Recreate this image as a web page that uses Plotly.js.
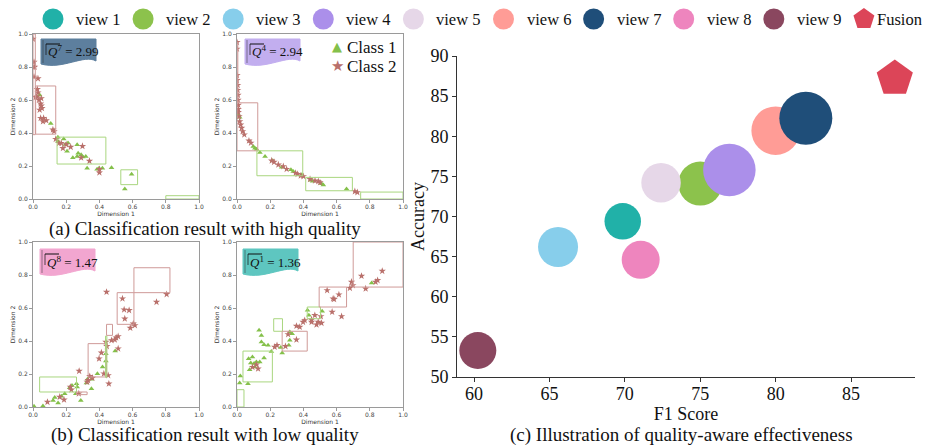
<!DOCTYPE html>
<html><head><meta charset="utf-8">
<script src="https://cdn.plot.ly/plotly-3.0.1.min.js"></script>
<style>html,body{margin:0;padding:0;background:#fff}#chart{width:926px;height:447px}</style>
</head><body><div id="chart"></div>
<script>
// ===================== DATA =====================
// (c) bubble chart
const viewNames  = ['view 1','view 2','view 3','view 4','view 5','view 6','view 7','view 8','view 9'];
const viewColors = ['#21b1a8','#8cc24c','#87ceeb','#ab8fea','#e6d7e8','#ff9c96','#1f4e79','#ee85be','#8a475f'];
const viewF1     = [69.86, 75.0, 65.57, 76.93, 72.4, 80.0, 82.0, 71.05, 60.25];
const viewAcc    = [69.4, 74.1, 66.2, 75.8, 74.2, 80.7, 82.25, 64.6, 53.3];
const viewSize   = [36.5, 44, 40, 52.5, 39.5, 48.5, 53, 38, 37];
const fusionName = 'Fusion';
const fusionColor = '#dc4558';
const fusionF1   = [87.9];
const fusionAcc  = [87.2];
const f1Ticks    = [60, 65, 70, 75, 80, 85];
const accTicks   = [50, 55, 60, 65, 70, 75, 80, 85, 90];

// small panels (a)/(b)
const dimTicks = [0, 0.2, 0.4, 0.6, 0.8, 1.0];
const className = ['Class 1', 'Class 2'];
const panelView  = [7, 4, 8, 1];           // Q^v shown in badge
const panelQ     = ['2.99', '2.94', '1.47', '1.36'];

// Panel a-left (view 7)
const a1C1x = [0.04,0.107,0.15,0.15,0.185,0.195,0.205,0.211,0.24,0.266,0.272,0.266,0.29,0.30,0.318,0.326,0.386,0.398,0.418,0.473,0.553,0.594];
const a1C1y = [0.63,0.458,0.375,0.35,0.363,0.33,0.29,0.339,0.25,0.258,0.278,0.329,0.268,0.254,0.258,0.187,0.18,0.187,0.187,0.19,0.06,0.15];
const a1C2x = [0.0,0.006,0.01,0.0,0.006,0.03,0.026,0.03,0.024,0.016,0.036,0.05,0.046,0.05,0.04,0.054,0.046,0.064,0.06,0.08,0.12,0.127,0.137,0.157,0.17,0.18,0.2,0.227,0.29,0.298,0.34,0.40,0.40];
const a1C2y = [0.97,0.83,0.80,0.80,0.74,0.73,0.665,0.645,0.62,0.617,0.60,0.61,0.577,0.565,0.54,0.55,0.49,0.49,0.47,0.476,0.42,0.41,0.363,0.339,0.339,0.308,0.33,0.315,0.25,0.32,0.23,0.18,0.16];
const a1Rects = [[0.0,0.014,0.39,1.0,2],[0.016,0.137,0.393,0.685,2],[0.145,0.439,0.212,0.375,1],[0.529,0.63,0.087,0.177,1],[0.80,1.0,0.0,0.02,1]];

// Panel a-right (view 4)
const a2C1x = [0.008,0.016,0.098,0.108,0.118,0.138,0.169,0.215,0.269,0.325,0.339,0.39,0.444,0.456,0.51,0.52,0.66];
const a2C1y = [0.51,0.496,0.318,0.308,0.302,0.282,0.258,0.232,0.192,0.177,0.167,0.147,0.113,0.107,0.093,0.085,0.06];
const a2C2x = [0,0,0,0,0.004,0.004,0.006,0.006,0.008,0.008,0.008,0.012,0.016,0.022,0.028,0.034,0.044,0.072,0.084,0.209,0.223,0.249,0.279,0.299,0.353,0.365,0.384,0.40,0.44,0.47,0.49,0.50,0.71,0.725];
const a2C2y = [0.95,0.91,0.75,0.72,0.69,0.66,0.63,0.60,0.57,0.545,0.526,0.50,0.47,0.45,0.43,0.41,0.39,0.353,0.34,0.232,0.224,0.208,0.198,0.181,0.157,0.151,0.141,0.137,0.12,0.111,0.107,0.10,0.046,0.04];
const a2Rects = [[0.0,0.005,0.583,0.95,2],[0.0,0.125,0.292,0.583,2],[0.12,0.396,0.141,0.292,1],[0.414,0.695,0.05,0.131,1],[0.745,1.0,0.0,0.042,1]];

// Panel b-left (view 8)
const b1C1x = [0.495,0.439,0.439,0.419,0.388,0.352,0.328,0.322,0.262,0.266,0.235,0.221,0.258,0.288,0.191,0.171,0.131,0.121,0.151,0.06,0.006,0.352];
const b1C1y = [0.339,0.323,0.279,0.242,0.202,0.168,0.168,0.145,0.141,0.121,0.131,0.117,0.081,0.04,0.081,0.065,0.057,0.04,0.024,0.006,0.004,0.111];
const b1C2x = [0.443,0.539,0.549,0.579,0.553,0.586,0.604,0.614,0.744,0.805,0.501,0.513,0.493,0.473,0.439,0.445,0.513,0.412,0.398,0.427,0.453,0.457,0.278,0.342,0.332,0.326,0.358,0.225,0.231,0.161,0.187,0.087,0.276];
const b1C2y = [0.697,0.657,0.59,0.586,0.535,0.479,0.505,0.495,0.636,0.683,0.42,0.428,0.408,0.404,0.394,0.368,0.354,0.329,0.293,0.202,0.192,0.141,0.218,0.186,0.162,0.152,0.176,0.121,0.105,0.061,0.044,0.03,0.081];
const b1Rects = [[0.04,0.262,0.091,0.182,1],[0.262,0.326,0.075,0.091,2],[0.332,0.443,0.182,0.384,2],[0.437,0.445,0.18,0.43,1],[0.443,0.479,0.434,0.501,2],[0.507,0.608,0.501,0.693,2],[0.608,0.825,0.693,0.844,2]];

// Panel b-right (view 1)
const b2C1x = [0.02,0.016,0.066,0.070,0.093,0.083,0.103,0.107,0.076,0.117,0.137,0.163,0.133,0.147,0.147,0.163,0.187,0.207,0.264,0.272,0.312,0.318,0.318,0.332,0.425,0.433,0.513,0.811];
const b2C1y = [0.188,0.145,0.141,0.293,0.303,0.267,0.263,0.242,0.226,0.273,0.273,0.297,0.465,0.434,0.394,0.378,0.374,0.337,0.36,0.327,0.374,0.404,0.455,0.444,0.586,0.556,0.58,0.752];
const b2C2x = [0.093,0.117,0.127,0.227,0.241,0.292,0.308,0.358,0.358,0.378,0.398,0.408,0.449,0.449,0.469,0.479,0.489,0.505,0.509,0.573,0.579,0.585,0.543,0.614,0.63,0.68,0.69,0.698,0.75,0.775,0.835,0.847,0.875];
const b2C2y = [0.242,0.257,0.232,0.364,0.374,0.368,0.44,0.408,0.491,0.485,0.515,0.525,0.529,0.515,0.556,0.499,0.515,0.549,0.509,0.576,0.657,0.653,0.707,0.681,0.549,0.721,0.758,0.737,0.794,0.717,0.758,0.768,0.824];
const b2Rects = [[0.0,0.042,0.0,0.105,1],[0.036,0.213,0.152,0.339,1],[0.221,0.274,0.459,0.535,1],[0.272,0.423,0.339,0.459,2],[0.423,0.503,0.535,0.606,1],[0.495,0.66,0.606,0.727,2],[0.70,1.0,0.727,1.0,2]];

const captions = ['(a) Classification result with high quality','(b) Classification result with low quality','(c) Illustration of quality-aware effectiveness'];

// ===================== STYLE / LAYOUT =====================
const W = 926, H = 447;
const px = x => x / W;
const py = y => 1 - y / H;
const SERIF = "'Liberation Serif', serif";
const SANS = "'DejaVu Sans', sans-serif";
const c1Color = '#84c04a', c2Color = '#b9706b';
const c1Rect = '#a9d67f', c2Rect = '#cf9a98';

const panels = [
  {xa:'x2', ya:'y2', box:[33,199,34,199],  C1x:a1C1x, C1y:a1C1y, C2x:a1C2x, C2y:a1C2y, rects:a1Rects, badge:[41,39]},
  {xa:'x3', ya:'y3', box:[237,403,34,199], C1x:a2C1x, C1y:a2C1y, C2x:a2C2x, C2y:a2C2y, rects:a2Rects, badge:[245,39]},
  {xa:'x4', ya:'y4', box:[33,199,242,407], C1x:b1C1x, C1y:b1C1y, C2x:b1C2x, C2y:b1C2y, rects:b1Rects, badge:[40,249]},
  {xa:'x5', ya:'y5', box:[237,403,242,407], C1x:b2C1x, C1y:b2C1y, C2x:b2C2x, C2y:b2C2y, rects:b2Rects, badge:[243,249]}
];

const traces = [];
const shapes = [];
const annotations = [];
const layout = {
  width: W, height: H, margin: {l:0, r:0, t:0, b:0},
  paper_bgcolor: '#fff', plot_bgcolor: 'rgba(0,0,0,0)',
  showlegend: false,
  font: {family: SERIF, color: '#000'},
  xaxis: {
    domain: [px(457), px(915)], range: [58.87, 89.24], anchor: 'y',
    tickvals: f1Ticks, showline: true, linecolor: '#333', linewidth: 1,
    ticks: 'outside', ticklen: 4, tickcolor: '#333', showgrid: false, zeroline: false,
    ticklabelstandoff: -4,
    tickfont: {family: SERIF, size: 18, color: '#111'},
    title: {text: 'F1 Score', font: {family: SERIF, size: 18, color: '#111'}, standoff: 0}
  },
  yaxis: {
    domain: [py(377), py(56)], range: [50, 90], anchor: 'x',
    tickvals: accTicks, showline: true, linecolor: '#333', linewidth: 1,
    ticks: 'outside', ticklen: 4, tickcolor: '#333', showgrid: false, zeroline: false,
    tickfont: {family: SERIF, size: 18, color: '#111'},
    title: {text: 'Accuracy', font: {family: SERIF, size: 18, color: '#111'}, standoff: 1}
  },
  xaxis6: {domain: [0, 1], range: [-0.588, 9.689], anchor: 'y6', visible: false, fixedrange: true},
  yaxis6: {domain: [py(30), py(8)], range: [-1, 1], anchor: 'x6', visible: false, fixedrange: true}
};

// main bubbles
traces.push({
  type: 'scatter', mode: 'markers', x: viewF1, y: viewAcc, text: viewNames,
  xaxis: 'x', yaxis: 'y', cliponaxis: false,
  marker: {size: viewSize, sizemode: 'diameter', color: viewColors, opacity: 1, line: {width: 0}}
});
traces.push({
  type: 'scatter', mode: 'markers', x: fusionF1, y: fusionAcc, name: fusionName,
  xaxis: 'x', yaxis: 'y', cliponaxis: false,
  marker: {size: 38, symbol: 'pentagon', color: fusionColor, opacity: 1, line: {width: 0}}
});

// custom top legend
const legNames = viewNames.concat([fusionName]);
const legColors = viewColors.concat([fusionColor]);
const legSymbols = viewNames.map(() => 'circle').concat(['pentagon']);
traces.push({
  type: 'scatter', mode: 'markers', x: legNames.map((_, i) => i), y: legNames.map(() => 0),
  xaxis: 'x6', yaxis: 'y6', cliponaxis: false, hoverinfo: 'skip',
  marker: {size: legSymbols.map(s => s === 'pentagon' ? 22 : 21), symbol: legSymbols, color: legColors,
           opacity: 1, line: {width: 0}}
});
legNames.forEach((n, i) => {
  annotations.push({xref: 'x6', yref: 'y6', x: i, y: 0, text: n, showarrow: false,
    xanchor: 'left', yanchor: 'middle', xshift: legSymbols[i] === 'pentagon' ? 11 : 21,
    font: {family: SERIF, size: 16.5, color: '#111'}});
});

// small panels
panels.forEach((p, k) => {
  const n = k + 2;
  const [x0, x1, y0, y1] = p.box;
  const axCommon = {
    range: [0, 1], tickvals: dimTicks, tickformat: '.1f', showline: true, mirror: true,
    linecolor: '#9a9a9a', linewidth: 1, ticks: 'outside', ticklen: 3, tickcolor: '#9a9a9a',
    showgrid: false, zeroline: false, fixedrange: true,
    tickfont: {family: SANS, size: 6, color: '#444'}
  };
  layout['xaxis' + n] = Object.assign({}, axCommon, {domain: [px(x0), px(x1)], anchor: 'y' + n,
    ticklabelstandoff: -1,
    title: {text: 'Dimension 1', font: {family: SANS, size: 6, color: '#333'}, standoff: 1}});
  layout['yaxis' + n] = Object.assign({}, axCommon, {domain: [py(y1), py(y0)], anchor: 'x' + n,
    title: {text: 'Dimension 2', font: {family: SANS, size: 6, color: '#333'}, standoff: 2}});

  p.rects.forEach(r => {
    shapes.push({type: 'rect', xref: p.xa, yref: p.ya, x0: r[0], x1: r[1], y0: r[2], y1: r[3],
      line: {color: r[4] === 1 ? c1Rect : c2Rect, width: 1}, fillcolor: 'rgba(0,0,0,0)', layer: 'above'});
  });
  traces.push({type: 'scatter', mode: 'markers', x: p.C1x, y: p.C1y, name: className[0],
    xaxis: p.xa, yaxis: p.ya, marker: {symbol: 'triangle-up', size: 5, color: c1Color, line: {width: 0}}});
  traces.push({type: 'scatter', mode: 'markers', x: p.C2x, y: p.C2y, name: className[1],
    xaxis: p.xa, yaxis: p.ya, marker: {symbol: 'star', size: 5.5, color: c2Color, line: {width: 0}}});

  // badge
  const [L, T] = p.badge;
  const R = L + 55;
  const path = `M ${px(L)},${py(T)} L ${px(R)},${py(T)} L ${px(R)},${py(T + 22)} ` +
    `C ${px(R - 12)},${py(T + 15)} ${px(L + 22)},${py(T + 31)} ${px(L)},${py(T + 25)} Z`;
  const vc = viewColors[panelView[k] - 1];
  shapes.push({type: 'path', xref: 'paper', yref: 'paper', path: path, fillcolor: vc, opacity: 0.72,
    line: {color: vc, width: 1}, layer: 'above'});
  shapes.push({type: 'line', xref: 'paper', yref: 'paper', x0: px(L + 2), x1: px(L + 2), y0: py(T + 1), y1: py(T + 24),
    line: {color: '#333', width: 1}, opacity: 0.5, layer: 'above'});
  shapes.push({type: 'line', xref: 'paper', yref: 'paper', x0: px(L + 5), x1: px(L + 19), y0: py(T + 5), y1: py(T + 5),
    line: {color: '#111', width: 1}, layer: 'above'});
  shapes.push({type: 'line', xref: 'paper', yref: 'paper', x0: px(L + 5), x1: px(L + 5), y0: py(T + 5), y1: py(T + 16),
    line: {color: '#111', width: 1}, opacity: 0.7, layer: 'above'});
  annotations.push({xref: 'paper', yref: 'paper', x: px(L + 5), y: py(T + 12.5), xanchor: 'left', yanchor: 'middle',
    showarrow: false, text: `<i>Q</i><sup>${panelView[k]}</sup> = ${panelQ[k]}`,
    font: {family: SERIF, size: 13, color: '#111'}});
});

// class legend inside panel (a)-right
annotations.push({xref:'paper', yref:'paper', x: px(337), y: py(46), text: '▲', showarrow:false,
  xanchor:'center', yanchor:'middle', font:{family: SANS, size: 13, color: c1Color}});
annotations.push({xref:'paper', yref:'paper', x: px(337), y: py(66), text: '★', showarrow:false,
  xanchor:'center', yanchor:'middle', font:{family: SANS, size: 15, color: c2Color}});
annotations.push({xref:'paper', yref:'paper', x: px(345), y: py(47), text: className[0], showarrow:false,
  xanchor:'left', yanchor:'middle', font:{family: SERIF, size: 17, color: '#111'}});
annotations.push({xref:'paper', yref:'paper', x: px(345), y: py(66), text: className[1], showarrow:false,
  xanchor:'left', yanchor:'middle', font:{family: SERIF, size: 17, color: '#111'}});

// captions
[[205, 229], [205, 435], [681, 435]].forEach((c, i) => {
  annotations.push({xref:'paper', yref:'paper', x: px(c[0]), y: py(c[1]), text: captions[i], showarrow:false,
    xanchor:'center', yanchor:'middle', font:{family: SERIF, size: 19, color: '#111'}});
});

layout.shapes = shapes;
layout.annotations = annotations;
Plotly.newPlot('chart', traces, layout, {displayModeBar: false, staticPlot: true});
</script></body></html>
